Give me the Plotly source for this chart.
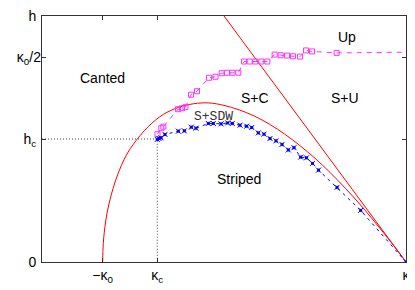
import plotly.graph_objects as go

# ---- data ----
# red dome boundary (Striped / S+SDW vs canted)
dome_x = [1.0, 1.01, 1.05, 1.1, 1.2, 1.35, 1.5, 1.75, 2.0, 2.25, 2.5, 2.75, 3.0, 3.25, 3.5, 3.75, 4.0, 4.25, 4.5, 4.75, 5.0, 5.25, 5.5, 5.75, 6.0]
dome_y = [0.0, 0.45, 1.0, 1.39, 1.93, 2.49, 2.86, 3.30, 3.60, 3.77, 3.86, 3.88, 3.82, 3.71, 3.56, 3.36, 3.12, 2.84, 2.53, 2.18, 1.80, 1.39, 0.95, 0.49, 0.0]

# straight red line (S+C / S+U)
line_x = [3.0, 6.0]
line_y = [6.0, 0.0]

# blue asterisk points (S+SDW boundary)
sdw_x = [1.900, 1.929, 1.962, 2.027, 2.247, 2.346, 2.461, 2.538, 2.741, 2.824, 2.951, 3.061,
         3.137, 3.264, 3.374, 3.457, 3.565, 3.659, 3.758, 3.857, 3.956, 4.060, 4.154, 4.264,
         4.360, 4.459, 4.558, 4.863, 5.253, 6.0]
sdw_y = [2.989, 3.013, 3.028, 3.111, 3.191, 3.199, 3.289, 3.264, 3.379, 3.379, 3.369, 3.393,
         3.379, 3.337, 3.313, 3.281, 3.150, 3.118, 3.013, 2.955, 2.867, 2.733, 2.789, 2.558,
         2.541, 2.404, 2.241, 1.820, 1.259, 0.0]

# magenta squares (Canted / Up boundary)
up_x = [1.904, 1.966, 2.000, 2.242, 2.308, 2.365, 2.456, 2.555, 2.753, 2.860, 2.962, 3.050,
        3.140, 3.236, 3.330, 3.423, 3.516, 3.615, 3.714, 3.835, 3.934, 4.038, 4.137, 4.253,
        4.352, 4.451, 4.857, 6.2]
up_y = [3.118, 3.264, 3.301, 3.727, 3.751, 3.776, 4.081, 4.166, 4.494, 4.519, 4.604, 4.616,
        4.616, 4.616, 4.890, 4.890, 4.890, 4.890, 4.890, 5.059, 5.043, 5.035, 5.018, 5.010,
        5.160, 5.136, 5.100, 5.120]

x_tickvals = [1.0, 1.9, 6.0]
x_ticktext = ["\u2212\u03ba<sub>0</sub>", "\u03ba<sub>c</sub>", "\u03ba"]
y_tickvals = [0.0, 3.0, 5.0, 6.0]
y_ticktext = ["0", "h<sub>c</sub>", "", "h"]
y2_tickvals = [5.0]
y2_ticktext = ["\u03ba<sub>0</sub>/2"]

kappa_c = 1.9
h_c = 3.0

regions = [
    ("Canted", 1.0, 4.50),
    ("Up", 5.02, 5.50),
    ("S+C", 3.51, 3.99),
    ("S+U", 4.99, 3.99),
    ("Striped", 3.25, 2.02),
]

fig = go.Figure()

# dotted guide lines
fig.add_trace(go.Scatter(x=[0, kappa_c, kappa_c], y=[h_c, h_c, 0], mode="lines",
                         line=dict(color="#444444", width=1, dash="1px,2px"),
                         hoverinfo="skip", showlegend=False))

fig.add_trace(go.Scatter(x=dome_x, y=dome_y, mode="lines", line=dict(color="#ff0000", width=1),
                         line_shape="spline", showlegend=False))
fig.add_trace(go.Scatter(x=line_x, y=line_y, mode="lines", line=dict(color="#ff0000", width=1),
                         showlegend=False))

fig.add_trace(go.Scatter(x=up_x, y=up_y, mode="lines+markers",
                         line=dict(color="#ff33ff", width=1, dash="5px,5px"),
                         marker=dict(symbol="square-open", size=5, color="#ff33ff",
                                     line=dict(width=1, color="#ff33ff")),
                         showlegend=False))

fig.add_trace(go.Scatter(x=sdw_x, y=sdw_y, mode="lines+markers",
                         line=dict(color="#0000ff", width=1, dash="3px,4px"),
                         marker=dict(symbol="square", size=3, color="#0000ff"),
                         showlegend=False))
fig.add_trace(go.Scatter(x=sdw_x, y=sdw_y, mode="markers",
                         marker=dict(symbol="x-thin-open", size=5, color="#0000ff",
                                     line=dict(width=1, color="#0000ff")),
                         showlegend=False))

# invisible trace to activate the second y axis (label for kappa_0/2)
fig.add_trace(go.Scatter(x=[None], y=[None], yaxis="y2", showlegend=False, hoverinfo="skip"))

for txt, x, y in regions:
    fig.add_annotation(x=x, y=y, text=txt, showarrow=False,
                       font=dict(family="Liberation Sans", size=14, color="black"))
fig.add_annotation(x=2.82, y=3.56, text="S+SDW", showarrow=False,
                   font=dict(family="Liberation Mono", size=13, color="#333333"))

axis_common = dict(showgrid=False, zeroline=False, showline=True, linecolor="#333333",
                   linewidth=1, mirror="ticks", ticks="inside", ticklen=4, tickcolor="#333333",
                   automargin=False, ticklabeloverflow="allow",
                   tickfont=dict(family="Liberation Sans", size=14, color="black"))

fig.update_xaxes(range=[0, 6], tickmode="array", tickvals=x_tickvals, ticktext=x_ticktext,
                 **axis_common)
fig.update_yaxes(range=[0, 6], tickmode="array", tickvals=y_tickvals, ticktext=y_ticktext,
                 ticklabelstandoff=2, **axis_common)

fig.update_layout(
    width=407, height=282, margin=dict(l=34, r=9, t=8, b=28),
    plot_bgcolor="white", paper_bgcolor="white",
    yaxis2=dict(overlaying="y", side="left", range=[0, 6], tickmode="array",
                tickvals=y2_tickvals, ticktext=y2_ticktext, showline=False, showgrid=False,
                zeroline=False, ticks="", automargin=False, ticklabelstandoff=0,
                ticklabeloverflow="allow",
                tickfont=dict(family="Liberation Sans", size=14, color="black")),
)

fig.write_html("out.html")
